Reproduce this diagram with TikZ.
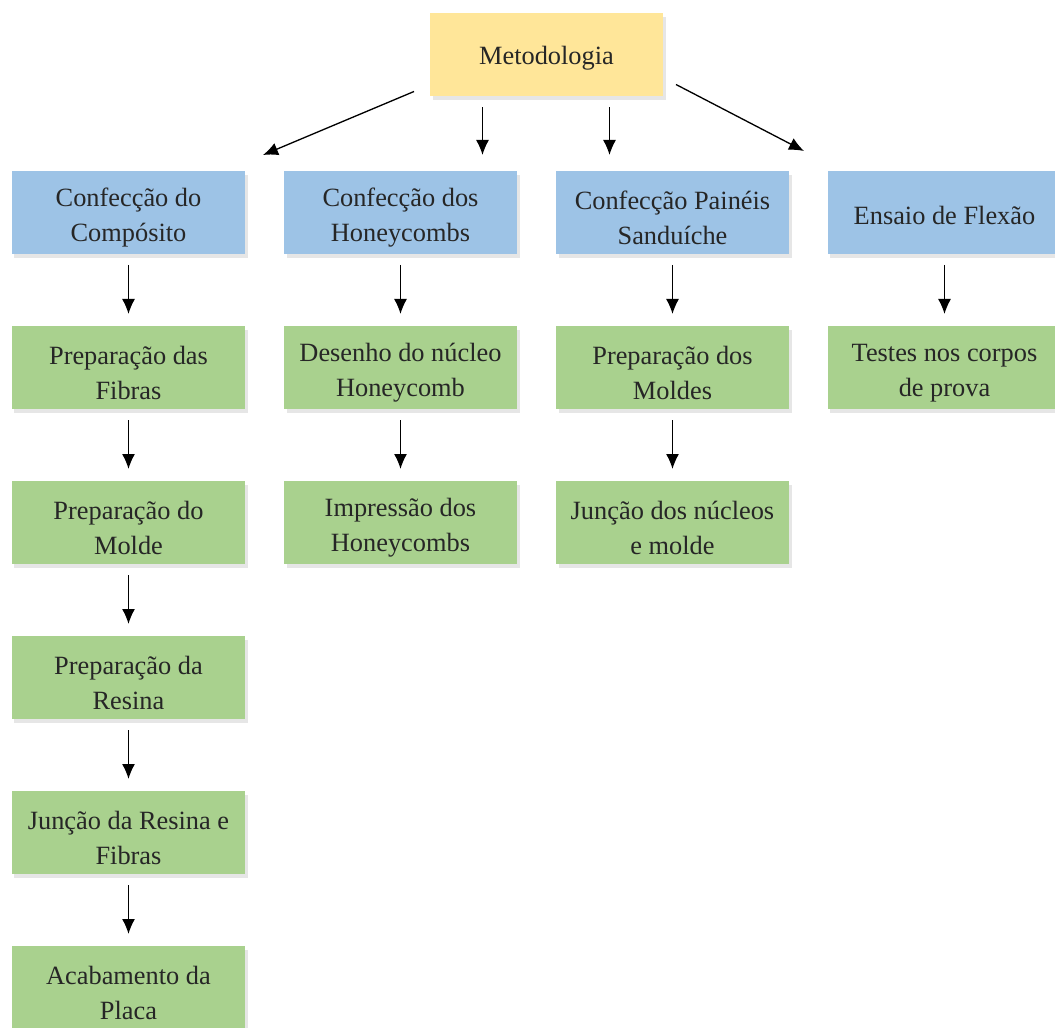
\documentclass[tikz,border=0pt]{standalone}
\usepackage{fontspec}
\setmainfont{Liberation Serif}
\usetikzlibrary{matrix,shadows,arrows.meta}
\definecolor{metayellow}{HTML}{FFE699}
\definecolor{stageblue}{HTML}{9DC3E6}
\definecolor{taskgreen}{HTML}{A9D18E}
\tikzset{
  box/.style={minimum width=4.66cm, minimum height=1.66cm, align=center, inner sep=2pt, outer sep=0,
    font=\fontsize{15}{20}\selectfont, text=black!85, text height=36.5pt,
    drop shadow={shadow xshift=0.5mm, shadow yshift=-0.7mm, opacity=0.2}},
  oneline/.style={text height=14pt},
  arr/.style={-{Latex[length=3mm,width=2.6mm]}, line width=0.75pt, shorten <=0.22cm, shorten >=0.24cm}
}
\begin{document}
\begin{tikzpicture}
    \useasboundingbox (0,0) rectangle (21.1,-20.56);
    \node[box, oneline, fill=metayellow] (meto) at (10.93,-1.1) {Metodologia};
    \matrix (M) [anchor=north west, inner sep=0, outer sep=0,
        row sep=1.44cm, column sep=0.78cm,
        s/.style={box, fill=stageblue}, t/.style={box, fill=taskgreen}
      ] at (0.24,-3.42)
      {
        \node[s] (comp) {Confecção do\\Compósito}; & \node[s] (hcomb) {Confecção dos\\Honeycombs}; & \node[s] (painel) {Confecção Painéis\\Sanduíche}; & \node[s, oneline] (ensaio) {Ensaio de Flexão}; \\
        \node[t] (fibras) {Preparação das\\Fibras}; & \node[t] (desenho) {Desenho do núcleo\\Honeycomb}; & \node[t] (moldes) {Preparação dos\\Moldes}; & \node[t] (testes) {Testes nos corpos\\de prova}; \\
        \node[t] (molde) {Preparação do\\Molde}; & \node[t] (impressao) {Impressão dos\\Honeycombs}; & \node[t] (juncao) {Junção dos núcleos\\e molde}; & \\
        \node[t] (resina) {Preparação da\\Resina}; & & & \\
        \node[t] (mistura) {Junção da Resina e\\Fibras}; & & & \\
        \node[t] (placa) {Acabamento da\\Placa}; & & & \\
      };
    \draw[arr, shorten <=0pt, shorten >=0pt] ([xshift=-0.32cm,yshift=0.1cm]meto.south west) -- ([xshift=0.36cm,yshift=0.32cm]comp.north east);
    \draw[arr, shorten >=0.32cm] ([xshift=-1.28cm]meto.south) -- ([xshift=-1.28cm]meto.south |- hcomb.north);
    \draw[arr, shorten >=0.32cm] ([xshift=1.26cm]meto.south) -- ([xshift=1.26cm]meto.south |- painel.north);
    \draw[arr, shorten <=0pt, shorten >=0pt] ([xshift=0.26cm,yshift=0.24cm]meto.south east) -- ([xshift=-0.48cm,yshift=0.4cm]ensaio.north west);
    \draw[arr] (comp) -- (fibras);
    \draw[arr] (fibras) -- (molde);
    \draw[arr] (molde) -- (resina);
    \draw[arr] (resina) -- (mistura);
    \draw[arr] (mistura) -- (placa);
    \draw[arr] (hcomb) -- (desenho);
    \draw[arr] (desenho) -- (impressao);
    \draw[arr] (painel) -- (moldes);
    \draw[arr] (moldes) -- (juncao);
    \draw[arr] (ensaio) -- (testes);
  \end{tikzpicture}
\end{document}
